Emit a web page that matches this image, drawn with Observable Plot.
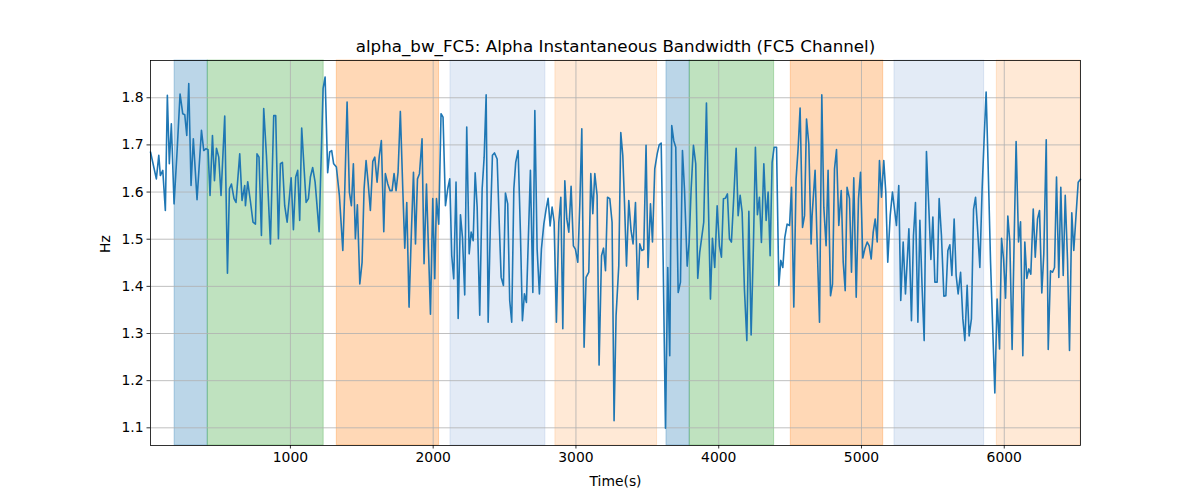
<!DOCTYPE html>
<html>
<head>
<meta charset="utf-8">
<script src="https://cdn.jsdelivr.net/npm/d3@7"></script>
<script src="https://cdn.jsdelivr.net/npm/@observablehq/plot@0.6"></script>
<style>
  html, body { margin: 0; padding: 0; background: white; }
  #chart svg { display: block; }
</style>
</head>
<body>
<div id="chart"></div>
<script>
const titleText = "alpha_bw_FC5: Alpha Instantaneous Bandwidth (FC5 Channel)";
const xLabel = "Time(s)";
const yLabel = "Hz";

const times = [20,61,78,89,106,124,138,152,166,185,206,227,246,260,274,288,304,320,346,377,393,409,423,437,454,468,482,498,514,540,559,573,587,605,619,645,661,680,
685,701,720,738,755,766,780,797,813,832,860,883,897,916,930,944,960,977,1005,1021,1037,1051,1065,1079,1110,1126,1140,1156,1173,1201,1229,1243,1261,1275,1289,1303,1322,
1343,1367,1381,1397,1413,1427,1441,1455,1469,1486,1502,1516,1530,1544,1560,1577,1591,1607,1623,1637,1654,1665,1682,1698,1712,1726,1740,1754,1770,1787,1801,1815,1831,1848,1862,1876,1890,1904,1922,1936,1953,1981,1997,2011,
2023,2039,2055,2069,2086,2102,2116,2130,2144,2160,2175,2191,2205,2221,2235,2252,2266,2280,2294,2308,2326,2343,2357,2371,2385,2401,2415,2429,2448,2464,2476,2492,2506,2522,2536,2550,2565,2578,2595,2611,2625,2639,2653,
2681,2698,2712,2728,2744,2758,2775,2791,2805,2819,2833,2847,2863,2880,2894,2908,2922,2936,2950,2966,2982,2996,3013,3027,3041,3057,3071,3090,3104,3118,3132,3148,3162,3179,3193,3207,3221,3237,3253,3267,3281,3300,3314,3328,
3340,3354,3370,3386,3400,3417,3433,3447,3461,3475,3491,3505,3522,3536,3552,3569,3583,3597,3611,3627,3643,3657,3671,3685,3699,3716,3732,3746,3760,3779,3793,3807,3823,3839,3853,3867,3895,3914,3928,3942,3956,3972,
3989,4005,4019,4033,4047,4061,4075,4089,4106,4122,4136,4150,4164,4180,4197,4211,4227,4243,4257,4271,4285,4299,4316,4332,4346,4360,4374,4388,4405,4421,4435,4449,4463,4479,4496,4510,4526,4542,4556,4570,4587,4601,4615,4631,4647,
4654,4675,4689,4706,4722,4736,4752,4766,4783,4797,4811,4825,4841,4858,4872,4886,4899,4916,4930,4946,4963,4979,4993,5009,5023,5040,5054,5068,5082,5096,5110,5126,5140,5156,5170,5184,5201,5217,5231,5245,5261,5275,5292,5308,
5332,5350,5364,5378,5395,5409,5425,5439,5455,5472,5486,5500,5514,5530,5544,5560,5577,5591,5605,5619,5633,5649,5663,5677,5694,5710,5724,5740,5754,5770,5785,5799,5813,5829,5845,5859,5873,5887,5904,5920,5934,
5950,5967,5981,5995,6009,6025,6039,6055,6069,6083,6100,6114,6130,6144,6158,6172,6186,6203,6217,6233,6247,6263,6277,6294,6308,6324,6338,6352,6366,6382,6396,6413,6427,6443,6457,6473,6487,6504,6518,6534];

const values = [1.685,1.628,1.678,1.635,1.646,1.561,1.805,1.66,1.745,1.575,1.685,1.808,1.766,1.764,1.72,1.83,1.614,1.713,1.584,1.731,1.688,1.692,1.69,1.593,1.72,1.624,1.693,1.674,1.593,1.761,1.428,1.607,1.617,1.586,1.578,1.681,1.582,1.614,
1.571,1.622,1.58,1.536,1.532,1.681,1.674,1.508,1.777,1.678,1.49,1.762,1.762,1.501,1.66,1.663,1.571,1.536,1.63,1.52,1.632,1.646,1.54,1.736,1.578,1.586,1.632,1.652,1.621,1.516,1.82,1.844,1.641,1.685,1.688,1.66,1.653,
1.593,1.476,1.607,1.791,1.6,1.571,1.66,1.501,1.573,1.405,1.451,1.607,1.667,1.621,1.561,1.665,1.674,1.621,1.678,1.709,1.516,1.639,1.617,1.603,1.603,1.639,1.603,1.642,1.771,1.607,1.481,1.578,1.356,1.521,1.642,1.49,1.628,1.639,1.713,1.448,1.617,1.341,1.586,1.416,
1.586,1.532,1.766,1.759,1.571,1.607,1.628,1.465,1.416,1.621,1.332,1.552,1.504,1.382,1.738,1.469,1.515,1.497,1.641,1.568,1.339,1.607,1.674,1.806,1.324,1.536,1.678,1.683,1.67,1.522,1.419,1.402,1.598,1.575,1.37,1.324,1.607,1.663,1.688,1.515,1.327,1.384,1.366,
1.646,1.387,1.773,1.479,1.384,1.479,1.532,1.564,1.587,1.528,1.568,1.537,1.324,1.536,1.589,1.31,1.624,1.543,1.515,1.612,1.486,1.479,1.451,1.573,1.734,1.271,1.419,1.43,1.639,1.554,1.639,1.593,1.233,1.465,1.481,1.433,1.589,1.586,1.536,1.115,1.338,1.444,1.726,1.678,
1.578,1.443,1.582,1.518,1.49,1.578,1.372,1.49,1.476,1.478,1.699,1.44,1.575,1.494,1.649,1.681,1.7,1.704,1.451,1.099,1.44,1.253,1.741,1.709,1.695,1.387,1.409,1.688,1.607,1.443,1.494,1.607,1.699,1.66,1.417,1.472,1.536,1.789,1.568,1.373,1.502,1.44,
1.571,1.486,1.462,1.586,1.587,1.596,1.501,1.494,1.593,1.693,1.55,1.593,1.557,1.394,1.285,1.559,1.297,1.486,1.695,1.552,1.589,1.493,1.66,1.54,1.6,1.465,1.663,1.695,1.695,1.402,1.455,1.44,1.504,1.532,1.529,1.61,1.356,1.628,1.692,1.778,1.525,1.55,1.755,1.702,1.49,
1.55,1.646,1.494,1.324,1.806,1.568,1.486,1.646,1.38,1.405,1.649,1.69,1.529,1.603,1.451,1.391,1.61,1.586,1.43,1.63,1.377,1.586,1.642,1.46,1.479,1.494,1.486,1.458,1.515,1.543,1.494,1.667,1.589,1.667,1.6,1.451,1.55,1.6,1.564,1.529,1.614,1.37,1.494,1.384,
1.522,1.327,1.508,1.578,1.324,1.54,1.394,1.285,1.686,1.564,1.457,1.547,1.409,1.409,1.586,1.508,1.379,1.38,1.476,1.488,1.423,1.543,1.423,1.384,1.43,1.331,1.285,1.402,1.295,1.331,1.564,1.589,1.522,1.44,1.607,1.713,1.812,1.656,1.451,1.302,1.174,
1.373,1.267,1.502,1.458,1.375,1.549,1.494,1.266,1.494,1.707,1.494,1.537,1.253,1.494,1.417,1.437,1.426,1.564,1.462,1.543,1.561,1.386,1.469,1.711,1.266,1.433,1.43,1.44,1.632,1.419,1.61,1.423,1.593,1.457,1.264,1.556,1.476,1.557,1.621,1.627];

const spanStart = [189, 421, 1325, 2121, 2856, 3634, 3797, 4505, 5231, 5948];
const spanEnd   = [421, 1233, 2041, 2786, 3568, 3797, 4388, 5152, 5859, 6534];
const spanKind  = ["blue", "green", "orange", "lightblue", "lightorange", "blue", "green", "orange", "lightblue", "lightorange"];

const xTicks = [1000, 2000, 3000, 4000, 5000, 6000];
const yTicks = [1.1, 1.2, 1.3, 1.4, 1.5, 1.6, 1.7, 1.8];

// styling (not data)
const xDomain = [20, 6534];
const yDomain = [1.0625, 1.879];
const kindStyle = {
  blue: {color: "#1f77b4", op: 0.3},
  green: {color: "#2ca02c", op: 0.3},
  orange: {color: "#ff7f0e", op: 0.3},
  lightblue: {color: "#447ac3", op: 0.15},
  lightorange: {color: "#ff7f0e", op: 0.17}
};

const points = times.map((t, i) => ({t, v: values[i]}));
const spans = spanStart.map((s, i) => ({s, e: spanEnd[i], kind: spanKind[i]}));

const spanMarks = Object.keys(kindStyle).map(k => Plot.rect(spans.filter(d => d.kind === k), {
  x1: "s", x2: "e", y1: () => yDomain[0], y2: () => yDomain[1],
  fill: kindStyle[k].color, fillOpacity: kindStyle[k].op,
  stroke: kindStyle[k].color, strokeOpacity: kindStyle[k].op, strokeWidth: 1,
  inset: 0
}));

const chart = Plot.plot({
  width: 1200,
  height: 500,
  marginLeft: 150,
  marginRight: 120,
  marginTop: 60,
  marginBottom: 55,
  style: {fontFamily: "'DejaVu Sans', sans-serif", fontSize: "13.9px", color: "black", background: "white"},
  x: {domain: xDomain},
  y: {domain: yDomain},
  marks: [
    ...spanMarks,
    Plot.gridX(xTicks, {stroke: "#b0b0b0", strokeOpacity: 1, strokeWidth: 0.8}),
    Plot.gridY(yTicks, {stroke: "#b0b0b0", strokeOpacity: 1, strokeWidth: 0.8}),
    Plot.line(points, {x: "t", y: "v", stroke: "#1f77b4", strokeWidth: 1.6}),
    Plot.frame({stroke: "black", strokeWidth: 0.8}),
    Plot.axisX(xTicks, {tickSize: 3.5, tickPadding: 3.5, strokeWidth: 0.8, tickFormat: d3.format("d"), label: null, fontSize: 13.9}),
    Plot.axisY(yTicks, {tickSize: 3.5, tickPadding: 3.5, strokeWidth: 0.8, tickFormat: d3.format(".1f"), label: null, fontSize: 13.9}),
    Plot.text([titleText], {frameAnchor: "top", lineAnchor: "middle", dy: -14, fontSize: 16.7, fill: "black"}),
    Plot.text([xLabel], {frameAnchor: "bottom", lineAnchor: "middle", dy: 36, fontSize: 13.9, fill: "black"}),
    Plot.text([yLabel], {frameAnchor: "left", lineAnchor: "middle", dx: -45, rotate: -90, fontSize: 13.9, fill: "black"})
  ]
});
document.getElementById("chart").appendChild(chart);
</script>
</body>
</html>
